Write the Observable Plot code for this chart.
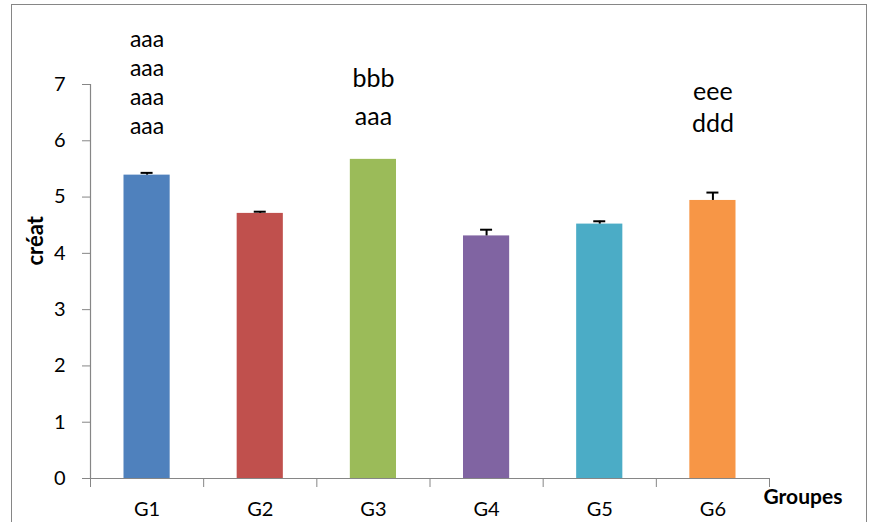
<!DOCTYPE html>
<html>
<head>
<meta charset="utf-8">
<script src="https://cdn.jsdelivr.net/npm/d3@7"></script>
<script src="https://cdn.jsdelivr.net/npm/@observablehq/plot@0.6"></script>
<style>
  html, body { margin: 0; padding: 0; background: #fff; overflow: hidden; }
  #border { position: absolute; left: 11px; top: 4px; width: 856px; height: 600px; border: 1px solid #868686; box-sizing: border-box; }
  #chart { position: absolute; left: 0; top: 0; }
</style>
</head>
<body>
<div id="border"></div>
<div id="chart"></div>
<script>
// Mean créat per group, with the upper error bar
const groups = ["G1", "G2", "G3", "G4", "G5", "G6"];
const values = [5.39, 4.71, 5.67, 4.31, 4.52, 4.94];
const errors = [0.04, 0.03, 0, 0.11, 0.05, 0.14];
const colors = ["#4F81BD", "#C0504D", "#9BBB59", "#8064A2", "#4BACC6", "#F79646"];
const letters = ["aaa\naaa\naaa\naaa", "", "bbb\naaa", "", "", "eee\nddd"];
const yTicks = [0, 1, 2, 3, 4, 5, 6, 7];

// one row per group, centred in its slot on a 0..6 linear axis
const rows = groups.map((g, i) => ({
  g, c: i + 0.5, v: values[i], e: errors[i], top: values[i] + errors[i], txt: letters[i]
}));
const withErr = rows.filter(d => d.e > 0);
const half = 0.204;   // half bar width, in slot units
const cap = 0.053;    // half error-cap width

const gray = "#868686";
const font = "Lato, 'Open Sans', sans-serif";

const note = (g, opts) => Plot.text(rows.filter(d => d.g === g), {
  x: "c", y: "v", text: "txt", lineAnchor: "bottom", fill: "black", ...opts
});

const chart = Plot.plot({
  width: 877,
  height: 522,
  marginLeft: 90,
  marginRight: 108,
  marginTop: 84,
  marginBottom: 44,
  style: { fontFamily: font, fontSize: "20px", color: "black", background: "transparent" },
  x: { domain: [0, 6], axis: null },
  y: { domain: [0, 7], axis: null },
  color: { domain: groups, range: colors },
  marks: [
    Plot.rectY(rows, { x1: d => d.c - half, x2: d => d.c + half, y1: 0, y2: "v", fill: "g" }),
    Plot.ruleX(withErr, { x: "c", y1: "v", y2: "top", stroke: "black", strokeWidth: 2 }),
    Plot.ruleY(withErr, { y: "top", x1: d => d.c - cap, x2: d => d.c + cap, stroke: "black", strokeWidth: 2 }),
    // axes
    Plot.ruleX([0], { stroke: gray, strokeWidth: 1.2 }),
    Plot.ruleY([0], { stroke: gray, strokeWidth: 1.2 }),
    Plot.axisY(yTicks, { tickSize: 8, tickPadding: 17, stroke: gray, fill: "black", label: null, fontSize: 20, tickFormat: d3.format("d") }),
    Plot.axisX(d3.range(0, 7), { tickSize: 9, stroke: gray, tickFormat: () => "", label: null }),
    Plot.text(rows, { x: "c", frameAnchor: "bottom", text: "g", dy: 37, fontSize: 20, fill: "black" }),
    Plot.text(["Groupes"], { frameAnchor: "bottom-right", textAnchor: "start", dx: -6, dy: 25, fontWeight: "bold", fontSize: 21, fill: "black" }),
    Plot.text(["créat"], { frameAnchor: "left", rotate: -90, dx: -55, dy: -16, fontWeight: "bold", fontSize: 22, fill: "black" }),
    // letter annotations above bars
    note("G1", { fontSize: 23, lineHeight: 1.26, dy: -41 }),
    note("G3", { fontSize: 25, lineHeight: 1.52, dy: -34 }),
    note("G6", { fontSize: 25, lineHeight: 1.28, dy: -68 })
  ]
});

document.getElementById("chart").appendChild(chart);
</script>
</body>
</html>
